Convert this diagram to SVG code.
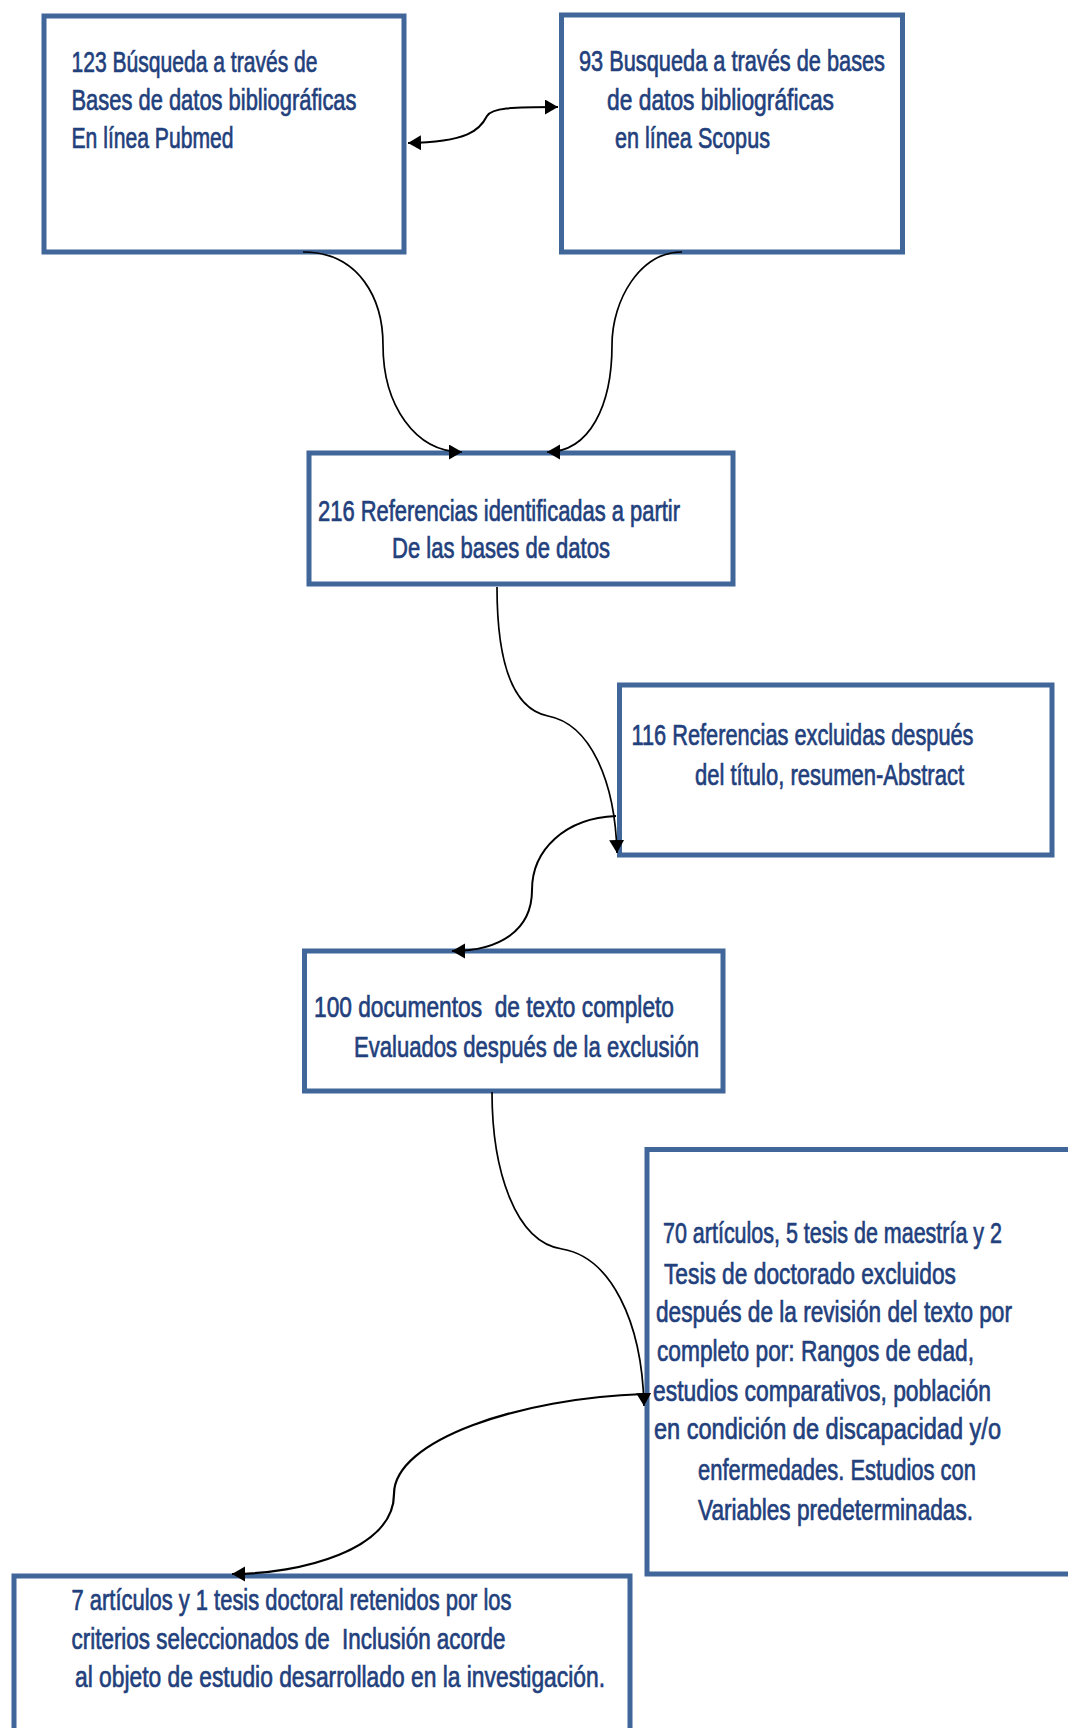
<svg xmlns="http://www.w3.org/2000/svg" width="1068" height="1728" viewBox="0 0 1068 1728" xml:space="preserve">
<style>
.box{fill:#ffffff;stroke:#41679a;stroke-width:5}
.t{font-family:"Liberation Sans",Arial,sans-serif;font-size:30px;fill:#22407c;stroke:#22407c;stroke-width:0.7;white-space:pre}
.c{fill:none;stroke:#000000;stroke-width:1.7}
</style>
<defs>
<marker id="ah" markerUnits="userSpaceOnUse" markerWidth="15" markerHeight="17" refX="13" refY="7.5" orient="auto-start-reverse" viewBox="0 0 15 17">
<path d="M0,0 L13,7.5 L0,15 z" fill="#000000"/>
</marker>
</defs>
<rect width="1068" height="1728" fill="#ffffff"/>
<g id="n1">
<rect class="box" x="44" y="16" width="360" height="236"/>
<text class="t" transform="translate(71.5,71.5) scale(0.68,1)" textLength="361.8" lengthAdjust="spacingAndGlyphs">123 Búsqueda a través de</text>
<text class="t" transform="translate(71.5,110) scale(0.68,1)" textLength="419.1" lengthAdjust="spacingAndGlyphs">Bases de datos bibliográficas</text>
<text class="t" transform="translate(71.5,147.5) scale(0.68,1)" textLength="238.2" lengthAdjust="spacingAndGlyphs">En línea Pubmed</text>
</g>
<g id="n2">
<rect class="box" x="561.5" y="15" width="341" height="237"/>
<text class="t" transform="translate(579,71) scale(0.68,1)" textLength="450" lengthAdjust="spacingAndGlyphs">93 Busqueda a través de bases</text>
<text class="t" transform="translate(607,110) scale(0.68,1)" textLength="333.8" lengthAdjust="spacingAndGlyphs">de datos bibliográficas</text>
<text class="t" transform="translate(615,148) scale(0.68,1)" textLength="227.9" lengthAdjust="spacingAndGlyphs">en línea Scopus</text>
</g>
<g id="n3">
<rect class="box" x="309" y="453" width="424" height="131"/>
<text class="t" transform="translate(318,521) scale(0.68,1)" textLength="532.4" lengthAdjust="spacingAndGlyphs">216 Referencias identificadas a partir</text>
<text class="t" transform="translate(392,558) scale(0.68,1)" textLength="320.6" lengthAdjust="spacingAndGlyphs">De las bases de datos</text>
</g>
<g id="n4">
<rect class="box" x="619.5" y="685" width="432.5" height="170"/>
<text class="t" transform="translate(631.5,745) scale(0.68,1)" textLength="502.9" lengthAdjust="spacingAndGlyphs">116 Referencias excluidas después</text>
<text class="t" transform="translate(695,785) scale(0.68,1)" textLength="395.6" lengthAdjust="spacingAndGlyphs">del título, resumen-Abstract</text>
</g>
<g id="n5">
<rect class="box" x="304.5" y="951" width="418.5" height="140"/>
<text class="t" transform="translate(314,1017) scale(0.68,1)" textLength="529.4" lengthAdjust="spacingAndGlyphs">100 documentos  de texto completo</text>
<text class="t" transform="translate(354,1057) scale(0.68,1)" textLength="507.4" lengthAdjust="spacingAndGlyphs">Evaluados después de la exclusión</text>
</g>
<g id="n6">
<rect class="box" x="647" y="1149.5" width="450" height="424.5"/>
<text class="t" transform="translate(663,1243) scale(0.68,1)" textLength="498.5" lengthAdjust="spacingAndGlyphs">70 artículos, 5 tesis de maestría y 2</text>
<text class="t" transform="translate(664,1284) scale(0.68,1)" textLength="429.4" lengthAdjust="spacingAndGlyphs">Tesis de doctorado excluidos</text>
<text class="t" transform="translate(656,1322) scale(0.68,1)" textLength="523.5" lengthAdjust="spacingAndGlyphs">después de la revisión del texto por</text>
<text class="t" transform="translate(657,1361) scale(0.68,1)" textLength="466.2" lengthAdjust="spacingAndGlyphs">completo por: Rangos de edad,</text>
<text class="t" transform="translate(653,1401) scale(0.68,1)" textLength="497.1" lengthAdjust="spacingAndGlyphs">estudios comparativos, población</text>
<text class="t" transform="translate(654,1439) scale(0.68,1)" textLength="510.3" lengthAdjust="spacingAndGlyphs">en condición de discapacidad y/o</text>
<text class="t" transform="translate(698,1480) scale(0.68,1)" textLength="408.8" lengthAdjust="spacingAndGlyphs">enfermedades. Estudios con</text>
<text class="t" transform="translate(698,1520) scale(0.68,1)" textLength="404.4" lengthAdjust="spacingAndGlyphs">Variables predeterminadas.</text>
</g>
<g id="n7">
<rect class="box" x="14" y="1576" width="616" height="220"/>
<text class="t" transform="translate(71.5,1610) scale(0.68,1)" textLength="647.1" lengthAdjust="spacingAndGlyphs">7 artículos y 1 tesis doctoral retenidos por los</text>
<text class="t" transform="translate(71.5,1648.5) scale(0.68,1)" textLength="638.2" lengthAdjust="spacingAndGlyphs">criterios seleccionados de  Inclusión acorde</text>
<text class="t" transform="translate(75,1687) scale(0.68,1)" textLength="779.4" lengthAdjust="spacingAndGlyphs">al objeto de estudio desarrollado en la investigación.</text>
</g>
<g id="connectors">
<path class="c" d="M 558,107 C 510,107 492,108 487,116 C 480,130 468,142 408,143" marker-start="url(#ah)" marker-end="url(#ah)" style="stroke-width:2"/>
<path class="c" d="M 303,252 C 360,252 383,300 383,345 C 383,405 415,452 462,452" marker-end="url(#ah)"/>
<path class="c" d="M 682,252 C 640,252 612,300 612,345 C 612,405 590,452 547,452" marker-end="url(#ah)"/>
<path class="c" d="M 497,587 C 497,650 508,708 548,716 C 590,724 615,780 617,853" marker-end="url(#ah)"/>
<path class="c" d="M 616,816 C 565,818 532,850 532,890 C 532,930 500,951 452,951" marker-end="url(#ah)" style="stroke-width:2"/>
<path class="c" d="M 492,1092 C 492,1170 515,1242 562,1249 C 610,1257 642,1320 644,1406" marker-end="url(#ah)"/>
<path class="c" d="M 644,1394 C 520,1398 394,1440 394,1494 C 394,1550 300,1574 232,1574" marker-end="url(#ah)" style="stroke-width:2.2"/>
</g>
</svg>
